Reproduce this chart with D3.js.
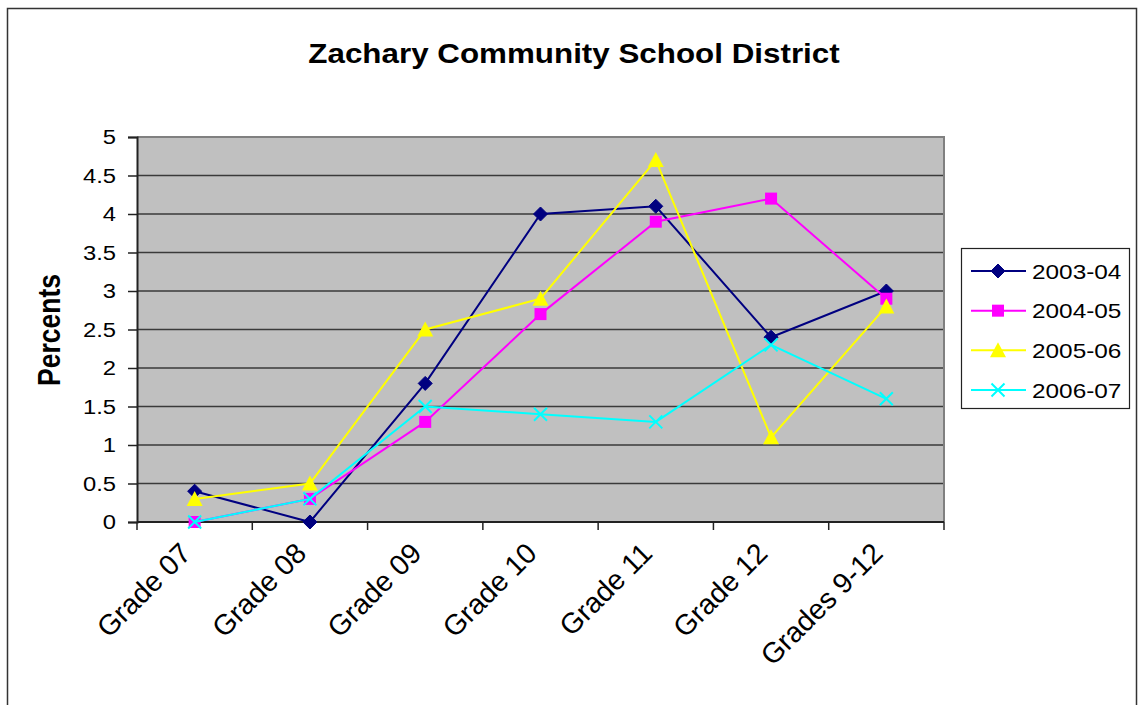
<!DOCTYPE html>
<html>
<head>
<meta charset="utf-8">
<script src="https://cdn.jsdelivr.net/npm/d3@7"></script>
<style>
  body { margin: 0; background: #fff; }
  svg text { font-family: Arial, "Liberation Sans", sans-serif; fill: #000; }
</style>
</head>
<body>
<div id="chart"></div>
<script>
// chart data
const categories = ['Grade 07', 'Grade 08', 'Grade 09', 'Grade 10', 'Grade 11', 'Grade 12', 'Grades 9-12'];
const seriesNames = ['2003-04', '2004-05', '2005-06', '2006-07'];
const v2003 = [0.4, 0, 1.8, 4.0, 4.1, 2.4, 3.0];
const v2004 = [0, 0.3, 1.3, 2.7, 3.9, 4.2, 2.9];
const v2005 = [0.3, 0.5, 2.5, 2.9, 4.7, 1.1, 2.8];
const v2006 = [0, 0.3, 1.5, 1.4, 1.3, 2.3, 1.6];
const yTicks = [0, 0.5, 1, 1.5, 2, 2.5, 3, 3.5, 4, 4.5, 5];

const W = 1138, H = 705;
const SX = 1.16; // the original picture is stretched a little sideways

const series = [
  { name: seriesNames[0], values: v2003, color: '#000080', marker: 'diamond' },
  { name: seriesNames[1], values: v2004, color: '#FF00FF', marker: 'square' },
  { name: seriesNames[2], values: v2005, color: '#FFFF00', marker: 'triangle' },
  { name: seriesNames[3], values: v2006, color: '#00FFFF', marker: 'cross' }
];

const svg = d3.select('#chart').append('svg')
    .attr('width', W)
    .attr('height', H);

// outer chart frame
svg.append('rect')
    .attr('x', 7.5).attr('y', 8.5)
    .attr('width', 1129).attr('height', 710)
    .style('fill', '#fff')
    .style('stroke', '#333')
    .style('stroke-width', 1.5);

const plot = { left: 137, right: 944, top: 137, bottom: 522 };

const x = d3.scaleBand()
    .domain(categories)
    .range([plot.left, plot.right]);

const y = d3.scaleLinear()
    .domain([0, 5])
    .range([plot.bottom, plot.top]);

const cx = d => x(d) + x.bandwidth() / 2;

// plot background
svg.append('rect')
    .attr('x', plot.left).attr('y', plot.top)
    .attr('width', plot.right - plot.left).attr('height', plot.bottom - plot.top)
    .style('fill', '#C0C0C0');

// gridlines
svg.append('g').selectAll('line')
    .data(yTicks.filter(t => t > 0 && t < 5))
    .join('line')
    .attr('x1', plot.left).attr('x2', plot.right)
    .attr('y1', d => y(d)).attr('y2', d => y(d))
    .style('stroke', '#3a3a3a')
    .style('stroke-width', 1.6);

// gray border on top and right of plot area
svg.append('path')
    .attr('d', `M${plot.left},${y(5)}H${plot.right}V${plot.bottom}`)
    .style('fill', 'none')
    .style('stroke', '#808080')
    .style('stroke-width', 2);

// y axis
const yAxis = svg.append('g')
    .attr('transform', `translate(${plot.left},0)`)
    .call(d3.axisLeft(y).tickValues(yTicks).tickSize(9).tickPadding(0).tickFormat(d3.format('')));
yAxis.select('.domain').style('stroke', '#222').style('stroke-width', 2);
yAxis.selectAll('.tick line').style('stroke', '#222').style('stroke-width', 1.5);
yAxis.selectAll('.tick text')
    .attr('x', null)
    .attr('transform', `translate(-21,0) scale(${SX},1)`)
    .style('font-size', '20.5px')
    .style('font-family', 'Arial, "Liberation Sans", sans-serif');

// x axis (ticks sit on category boundaries)
const xAxis = svg.append('g')
    .attr('transform', `translate(0,${plot.bottom})`);
xAxis.append('line')
    .attr('x1', plot.left).attr('x2', plot.right)
    .style('stroke', '#222').style('stroke-width', 2);
xAxis.selectAll('line.tk')
    .data(categories.concat(['end']))
    .join('line')
    .attr('class', 'tk')
    .attr('x1', (d, i) => i < categories.length ? x(d) : plot.right)
    .attr('x2', (d, i) => i < categories.length ? x(d) : plot.right)
    .attr('y1', 0).attr('y2', 8)
    .style('stroke', '#222').style('stroke-width', 1.5);
xAxis.selectAll('text')
    .data(categories)
    .join('text')
    .attr('transform', d => `translate(${cx(d) - 9},${26}) rotate(-45)`)
    .attr('text-anchor', 'end')
    .attr('dy', '0.35em')
    .style('font-size', '28.5px')
    .text(d => d);

// title
svg.append('text')
    .attr('transform', `translate(574,63) scale(1.12,1)`)
    .attr('text-anchor', 'middle')
    .style('font-size', '28px')
    .style('font-weight', 'bold')
    .text('Zachary Community School District');

// y axis title
svg.append('text')
    .attr('transform', `translate(60,330) scale(${SX},1) rotate(-90)`)
    .attr('text-anchor', 'middle')
    .style('font-size', '26.5px')
    .style('font-weight', 'bold')
    .text('Percents');

// marker drawing
function drawMarker(g, type, color) {
  if (type === 'diamond') {
    g.append('path').attr('d', 'M0,-7L7,0L0,7L-7,0Z').style('fill', color).style('stroke', color);
  } else if (type === 'square') {
    g.append('rect').attr('x', -6).attr('y', -6).attr('width', 12).attr('height', 12)
        .style('fill', color);
  } else if (type === 'triangle') {
    g.append('path').attr('d', 'M0,-8L8,7L-8,7Z').style('fill', color);
  } else {
    g.append('path').attr('d', 'M-6.5,-6.5L6.5,6.5M-6.5,6.5L6.5,-6.5')
        .style('stroke', color).style('stroke-width', 2).style('fill', 'none');
  }
}

const line = d3.line()
    .x((d, i) => cx(categories[i]))
    .y(d => y(d));

series.forEach(s => {
  const g = svg.append('g');
  g.append('path')
      .datum(s.values)
      .attr('d', line)
      .style('fill', 'none')
      .style('stroke', s.color)
      .style('stroke-width', 2);
  s.values.forEach((v, i) => {
    const m = g.append('g').attr('transform', `translate(${cx(categories[i])},${y(v)})`);
    drawMarker(m, s.marker, s.color);
  });
});

// legend
const legend = svg.append('g');
legend.append('rect')
    .attr('x', 961.5).attr('y', 248.5)
    .attr('width', 168).attr('height', 160)
    .style('fill', '#fff')
    .style('stroke', '#222')
    .style('stroke-width', 1.2);

const ly = d3.scalePoint()
    .domain(seriesNames)
    .range([271, 390]);

series.forEach(s => {
  const row = legend.append('g').attr('transform', `translate(0,${ly(s.name)})`);
  row.append('line')
      .attr('x1', 971).attr('x2', 1026)
      .style('stroke', s.color)
      .style('stroke-width', 2);
  const m = row.append('g').attr('transform', 'translate(998,0)');
  drawMarker(m, s.marker, s.color);
  row.append('text')
      .attr('transform', `translate(1032,0) scale(${SX},1)`)
      .attr('dy', '0.36em')
      .style('font-size', '21px')
      .text(s.name);
});
</script>
</body>
</html>
